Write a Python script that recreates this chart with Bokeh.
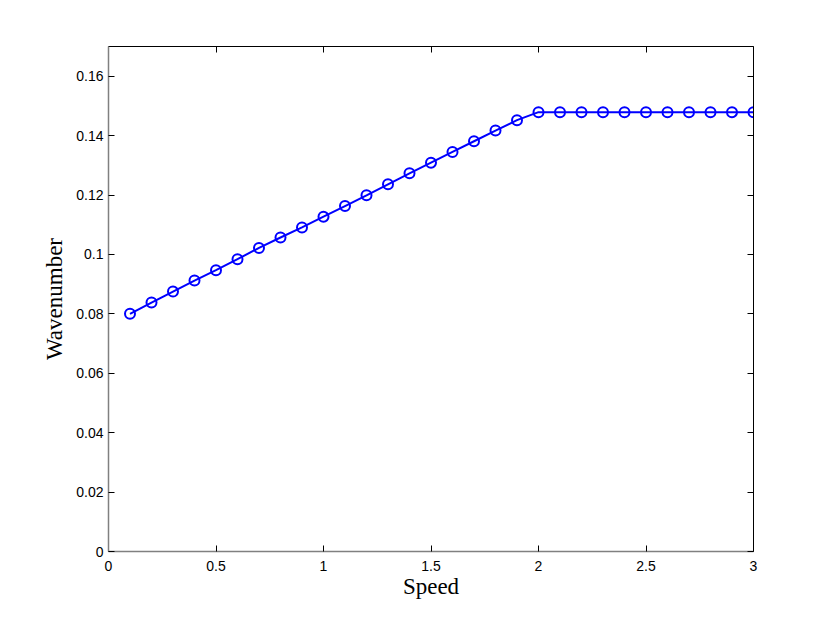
from bokeh.plotting import figure
from bokeh.models import Range1d, FixedTicker, LinearAxis
from bokeh.embed import file_html
from bokeh.resources import INLINE

speed = [0.1, 0.2, 0.3, 0.4, 0.5, 0.6, 0.7, 0.8, 0.9, 1.0,
         1.1, 1.2, 1.3, 1.4, 1.5, 1.6, 1.7, 1.8, 1.9, 2.0,
         2.1, 2.2, 2.3, 2.4, 2.5, 2.6, 2.7, 2.8, 2.9, 3.0]
wavenumber = [0.0800, 0.0838, 0.0875, 0.0912, 0.0947, 0.0984, 0.1022, 0.1057, 0.1091, 0.1127,
              0.1163, 0.1199, 0.1236, 0.1273, 0.1309, 0.1345, 0.1381, 0.1417, 0.1452, 0.1479,
              0.1479, 0.1479, 0.1479, 0.1479, 0.1479, 0.1479, 0.1479, 0.1479, 0.1479, 0.1479]

x_ticks = [0, 0.5, 1, 1.5, 2, 2.5, 3]
x_tick_labels = ["0", "0.5", "1", "1.5", "2", "2.5", "3"]
y_ticks = [0, 0.02, 0.04, 0.06, 0.08, 0.1, 0.12, 0.14, 0.16]
y_tick_labels = ["0", "0.02", "0.04", "0.06", "0.08", "0.1", "0.12", "0.14", "0.16"]

p = figure(frame_width=645, frame_height=505,
           x_range=Range1d(0, 3), y_range=Range1d(0, 0.17),
           output_backend="svg", toolbar_location=None,
           min_border_left=108, min_border_right=61,
           min_border_top=46, min_border_bottom=62,
           background_fill_color="white", border_fill_color="white")
p.outline_line_color = None
p.xgrid.visible = False
p.ygrid.visible = False

tick_font = "Liberation Sans"
label_font = "Liberation Serif"

xa = p.xaxis[0]
xa.ticker = FixedTicker(ticks=x_ticks)
xa.major_label_overrides = dict(zip(x_ticks, x_tick_labels))
xa.axis_label = "Speed"
ya = p.yaxis[0]
ya.ticker = FixedTicker(ticks=y_ticks)
ya.major_label_overrides = dict(zip(y_ticks, y_tick_labels))
ya.axis_label = "Wavenumber"

for ax in (xa, ya):
    ax.axis_line_color = "#808080"
    ax.axis_line_width = 1.5
    ax.major_tick_in = 6
    ax.major_tick_out = 0
    ax.minor_tick_in = 0
    ax.minor_tick_out = 0
    ax.major_tick_line_color = "black"
    ax.major_label_text_font = tick_font
    ax.major_label_text_font_size = "14px"
    ax.major_label_text_color = "black"
    ax.axis_label_text_font = label_font
    ax.axis_label_text_font_size = "23px"
    ax.axis_label_text_font_style = "normal"
    ax.axis_label_text_color = "black"
xa.major_label_standoff = 9
xa.axis_label_standoff = 0
ya.major_label_standoff = 5
ya.axis_label_standoff = 6

top = LinearAxis(ticker=FixedTicker(ticks=x_ticks))
right = LinearAxis(ticker=FixedTicker(ticks=y_ticks))
for ax in (top, right):
    ax.axis_line_color = "black"
    ax.axis_line_width = 1
    ax.major_tick_in = 6
    ax.major_tick_out = 0
    ax.minor_tick_in = 0
    ax.minor_tick_out = 0
    ax.major_tick_line_color = "black"
    ax.major_label_text_font_size = "0px"
    ax.major_label_text_alpha = 0
    ax.major_label_standoff = 0
p.add_layout(top, "above")
p.add_layout(right, "right")

p.line(speed, wavenumber, line_color="#0000ff", line_width=2)
p.scatter(speed, wavenumber, marker="circle", size=10, fill_color=None,
          line_color="#0000ff", line_width=2)

open("out.html", "w").write(file_html(p, INLINE))
